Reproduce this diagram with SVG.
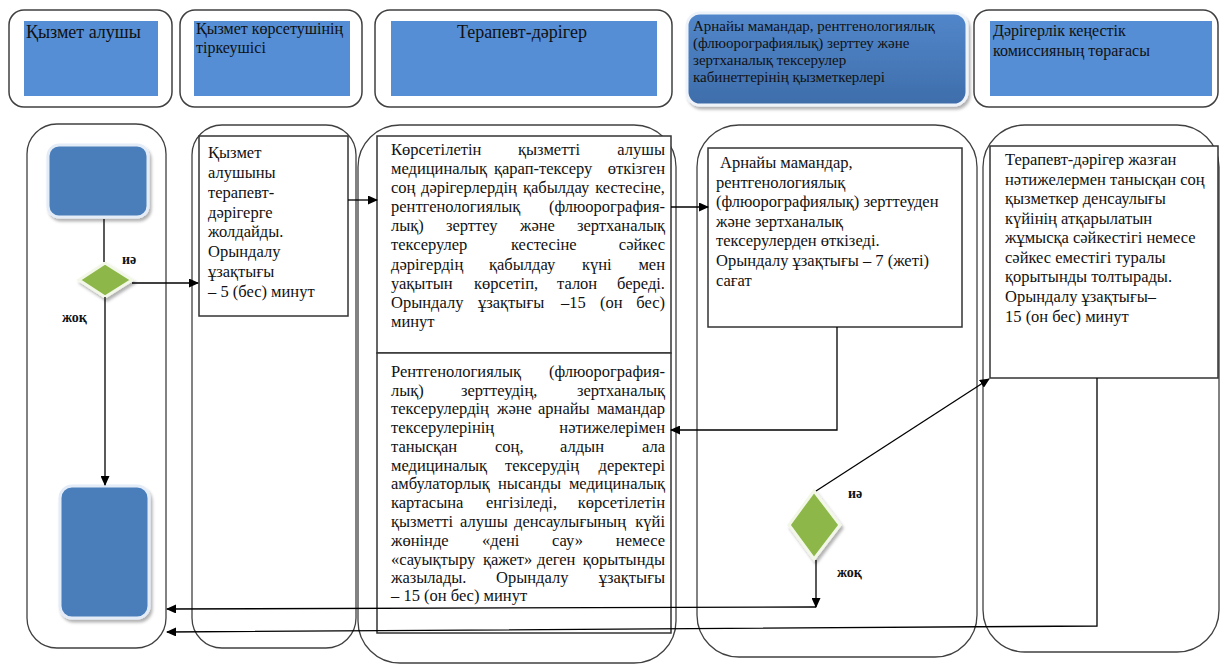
<svg xmlns="http://www.w3.org/2000/svg" width="1221" height="665" viewBox="0 0 1221 665">
<style>
.frame{fill:#fff;stroke:#404040;stroke-width:1.5}
.hblue{fill:#558ED5}
.lane{fill:none;stroke:#404040;stroke-width:1.3}
.box{fill:#fff;stroke:#333;stroke-width:1.5}
.conn{fill:none;stroke:#000;stroke-width:1.3}
.arr{marker-end:url(#ah)}
text{font-family:"Liberation Serif","Times New Roman",serif;fill:#111}
.h18{font-size:18px}
.h16{font-size:16px}
.h15{font-size:15px}
.b{font-size:16.5px}
.lbl{font-size:14px;font-weight:bold}
.startend{fill:#4A7EBB;stroke:#E4ECF7;stroke-width:3}
.dia{fill:#8DB849;stroke:#F2F7E8;stroke-width:3}
</style>
<defs>
<marker id="ah" markerUnits="userSpaceOnUse" markerWidth="10" markerHeight="9" refX="9" refY="4.5" orient="auto">
<path d="M0,0 L10,4.5 L0,9 Z" fill="#000"/>
</marker>
<filter id="sh" x="-20%" y="-20%" width="140%" height="140%">
<feDropShadow dx="2" dy="3" stdDeviation="1.5" flood-color="#000" flood-opacity="0.3"/>
</filter>
<linearGradient id="dk" x1="0" y1="0" x2="0" y2="1">
<stop offset="0" stop-color="#5287CB"/>
<stop offset="1" stop-color="#3E6DAA"/>
</linearGradient>
</defs>

<!-- header -->
<g id="h1">
<rect class="frame" x="9" y="10" width="163" height="97" rx="15"/>
<rect class="hblue" x="24" y="21" width="134" height="75"/>
<text class="h18" x="26" y="38">Қызмет алушы</text>
</g>
<g id="h2">
<rect class="frame" x="180" y="10" width="182" height="97" rx="15"/>
<rect class="hblue" x="194" y="21" width="156" height="75"/>
<text class="h16" x="196" y="34">Қызмет көрсетушінің</text>
<text class="h16" x="196" y="53">тіркеушісі</text>
</g>
<g id="h3">
<rect class="frame" x="375" y="10" width="297" height="97" rx="15"/>
<rect class="hblue" x="391" y="21" width="266" height="75"/>
<text class="h18" x="522" y="38" text-anchor="middle">Терапевт-дәрігер</text>
</g>
<g id="h4">
<rect x="687" y="13" width="280" height="92" rx="13" fill="url(#dk)" stroke="#EEF3FA" stroke-width="3" filter="url(#sh)"/>
<text class="h15" x="693" y="31">Арнайы мамандар,  рентгенологиялық</text>
<text class="h15" x="693" y="48">(флюорографиялық) зерттеу және</text>
<text class="h15" x="693" y="65">зертханалық тексерулер</text>
<text class="h15" x="693" y="82">кабинеттерінің қызметкерлері</text>
</g>
<g id="h5">
<rect class="frame" x="974" y="10" width="244" height="97" rx="15"/>
<rect class="hblue" x="990" y="21" width="222" height="75"/>
<text class="h16" x="993" y="36">Дәрігерлік кеңестік</text>
<text class="h16" x="993" y="56">комиссияның төрағасы</text>
</g>

<!-- lanes -->
<g id="lanes">
<rect class="lane" x="27" y="124" width="139" height="524" rx="30"/>
<rect class="lane" x="192" y="125" width="164" height="523" rx="30"/>
<rect class="lane" x="358" y="125" width="318" height="538" rx="42"/>
<rect class="lane" x="697" y="125" width="280" height="532" rx="42"/>
<rect class="lane" x="983" y="125" width="236" height="527" rx="42"/>
</g>

<!-- nodes lane 1 -->
<g id="start">
<rect class="startend" x="48" y="145" width="100" height="72" rx="11" filter="url(#sh)"/>
</g>
<g id="d1">
<polygon class="dia" points="105,263 132,280 105,297 79,280" filter="url(#sh)"/>
</g>
<g id="end">
<rect class="startend" x="60" y="486" width="89" height="132" rx="12" filter="url(#sh)"/>
</g>

<!-- lane 2 -->
<g id="n2">
<rect class="box" x="199" y="136" width="149" height="180"/>
<text class="b" x="208" y="158">Қызмет</text>
<text class="b" x="208" y="178">алушыны</text>
<text class="b" x="208" y="198">терапевт-</text>
<text class="b" x="208" y="218">дәрігерге</text>
<text class="b" x="208" y="237">жолдайды.</text>
<text class="b" x="208" y="257">Орындалу</text>
<text class="b" x="208" y="277">ұзақтығы</text>
<text class="b" x="208" y="297">– 5 (бес) минут</text>
</g>

<!-- lane 3 box 1 -->
<g id="n3a">
<rect class="box" x="377" y="136" width="294" height="217"/>
<text class="b" y="155"><tspan x="391">Көрсетілетін</tspan><tspan x="518">қызметті</tspan><tspan x="665" text-anchor="end">алушы</tspan></text>
<text class="b" y="174"><tspan x="391">медициналық</tspan><tspan x="494">қарап-тексеру</tspan><tspan x="665" text-anchor="end">өткізген</tspan></text>
<text class="b" y="193"><tspan x="391">соң</tspan><tspan x="421">дәрігерлердің</tspan><tspan x="523">қабылдау</tspan><tspan x="665" text-anchor="end">кестесіне,</tspan></text>
<text class="b" y="212"><tspan x="391">рентгенологиялық</tspan><tspan x="665" text-anchor="end">(флюорография-</tspan></text>
<text class="b" y="231"><tspan x="391">лық)</tspan><tspan x="446">зерттеу</tspan><tspan x="520">және</tspan><tspan x="665" text-anchor="end">зертханалық</tspan></text>
<text class="b" y="250"><tspan x="391">тексерулер</tspan><tspan x="511">кестесіне</tspan><tspan x="665" text-anchor="end">сәйкес</tspan></text>
<text class="b" y="270"><tspan x="391">дәрігердің</tspan><tspan x="489">қабылдау</tspan><tspan x="582">күні</tspan><tspan x="665" text-anchor="end">мен</tspan></text>
<text class="b" y="289"><tspan x="391">уақытын</tspan><tspan x="474">көрсетіп,</tspan><tspan x="557">талон</tspan><tspan x="665" text-anchor="end">береді.</tspan></text>
<text class="b" y="308"><tspan x="391">Орындалу</tspan><tspan x="478">ұзақтығы</tspan><tspan x="561">–15</tspan><tspan x="600">(он</tspan><tspan x="665" text-anchor="end">бес)</tspan></text>
<text class="b" x="391" y="327">минут</text>
</g>

<!-- lane 3 box 2 -->
<g id="n3b">
<rect class="box" x="377" y="353" width="294" height="280"/>
<text class="b" y="377"><tspan x="391">Рентгенологиялық</tspan><tspan x="665" text-anchor="end">(флюорография-</tspan></text>
<text class="b" y="396"><tspan x="391">лық)</tspan><tspan x="461">зерттеудің,</tspan><tspan x="665" text-anchor="end">зертханалық</tspan></text>
<text class="b" y="414"><tspan x="391">тексерулердің</tspan><tspan x="497">және</tspan><tspan x="538">арнайы</tspan><tspan x="665" text-anchor="end">мамандар</tspan></text>
<text class="b" y="433"><tspan x="391">тексерулерінің</tspan><tspan x="665" text-anchor="end">нәтижелерімен</tspan></text>
<text class="b" y="452"><tspan x="391">танысқан</tspan><tspan x="495">соң,</tspan><tspan x="560">алдын</tspan><tspan x="665" text-anchor="end">ала</tspan></text>
<text class="b" y="471"><tspan x="391">медициналық</tspan><tspan x="505">тексерудің</tspan><tspan x="665" text-anchor="end">деректері</tspan></text>
<text class="b" y="489"><tspan x="391">амбулаторлық</tspan><tspan x="498">нысанды</tspan><tspan x="665" text-anchor="end">медициналық</tspan></text>
<text class="b" y="508"><tspan x="391">картасына</tspan><tspan x="486">енгізіледі,</tspan><tspan x="665" text-anchor="end">көрсетілетін</tspan></text>
<text class="b" y="527"><tspan x="391">қызметті</tspan><tspan x="460">алушы</tspan><tspan x="514">денсаулығының</tspan><tspan x="665" text-anchor="end">күйі</tspan></text>
<text class="b" y="546"><tspan x="391">жөнінде</tspan><tspan x="482">«дені</tspan><tspan x="552">сау»</tspan><tspan x="665" text-anchor="end">немесе</tspan></text>
<text class="b" y="565"><tspan x="391">«сауықтыру</tspan><tspan x="483">қажет»</tspan><tspan x="537">деген</tspan><tspan x="665" text-anchor="end">қорытынды</tspan></text>
<text class="b" y="583"><tspan x="391">жазылады.</tspan><tspan x="496">Орындалу</tspan><tspan x="665" text-anchor="end">ұзақтығы</tspan></text>
<text class="b" x="391" y="601">– 15 (он бес) минут</text>
</g>

<!-- lane 4 -->
<g id="n4">
<rect class="box" x="708" y="148" width="254" height="179"/>
<text class="b" x="720" y="168">Арнайы мамандар,</text>
<text class="b" x="716" y="188">рентгенологиялық</text>
<text class="b" x="716" y="207">(флюорографиялық) зерттеуден</text>
<text class="b" x="716" y="227">және зертханалық</text>
<text class="b" x="716" y="246">тексерулерден өткізеді.</text>
<text class="b" x="716" y="266">Орындалу ұзақтығы – 7 (жеті)</text>
<text class="b" x="716" y="286">сағат</text>
</g>
<g id="d2">
<polygon class="dia" points="814,491 840,525 814,559 789,525" filter="url(#sh)"/>
</g>

<!-- lane 5 -->
<g id="n5">
<rect class="box" x="990" y="146" width="228" height="232"/>
<text class="b" x="1005" y="165">Терапевт-дәрігер жазған</text>
<text class="b" x="1005" y="185">нәтижелермен танысқан соң</text>
<text class="b" x="1005" y="204">қызметкер денсаулығы</text>
<text class="b" x="1005" y="224">күйінің атқарылатын</text>
<text class="b" x="1005" y="243">жұмысқа сәйкестігі немесе</text>
<text class="b" x="1005" y="263">сәйкес еместігі туралы</text>
<text class="b" x="1005" y="282">қорытынды толтырады.</text>
<text class="b" x="1005" y="302">Орындалу ұзақтығы–</text>
<text class="b" x="1005" y="322">15 (он бес) минут</text>
</g>

<!-- connectors -->
<g id="connectors">
<path class="conn" d="M104,219 V262"/>
<path class="conn arr" d="M132,283 H198"/>
<path class="conn arr" d="M105,297 V485"/>
<path class="conn arr" d="M348,200 H377"/>
<path class="conn arr" d="M671,207 H708"/>
<path class="conn arr" d="M837,327 V430 H671"/>
<path class="conn arr" d="M816,491 L989,379"/>
<path class="conn arr" d="M816,560 V607"/>
<path class="conn arr" d="M816,607 L167,609"/>
<path class="conn arr" d="M1097,378 V626 L167,632"/>
<text class="lbl" x="122" y="264">иә</text>
<text class="lbl" x="62" y="322">жоқ</text>
<text class="lbl" x="848" y="498">иә</text>
<text class="lbl" x="837" y="577">жоқ</text>
</g>
</svg>
